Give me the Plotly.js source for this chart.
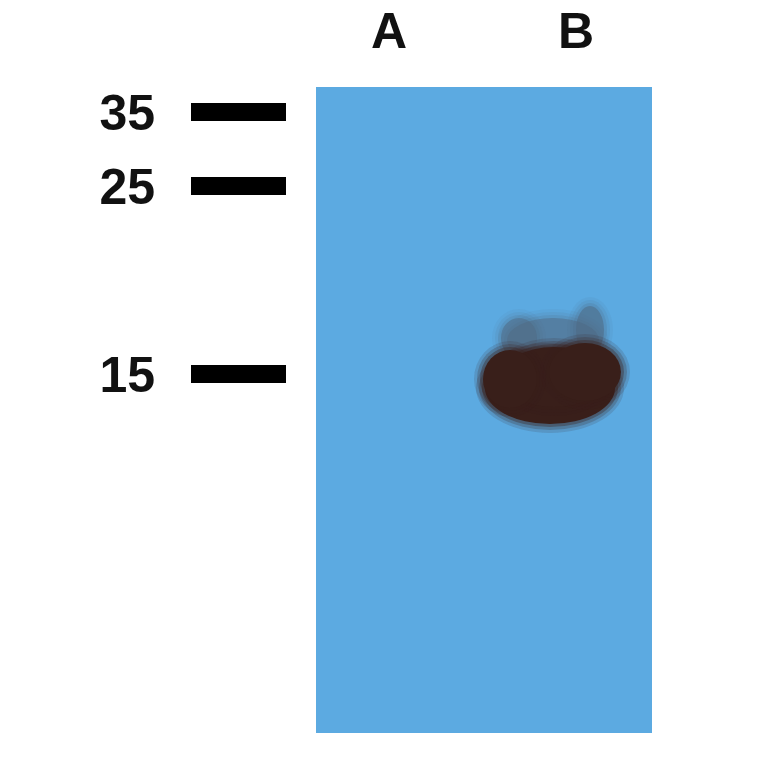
<!DOCTYPE html>
<html>
<head>
<meta charset="utf-8">
<script src="https://cdn.plot.ly/plotly-3.0.1.min.js"></script>
<style>
  html, body { margin: 0; padding: 0; background: #fff; }
  #blot { width: 764px; height: 764px; }
</style>
</head>
<body>
<div id="blot"></div>
<script>
// lanes on the membrane and the signal seen in each
var lanes = ['A', 'B'];
var laneSignal = [0, 1];

// size ladder: kDa labels and how far each marker ran from the well
var markerLabels = ['35', '25', '15'];
var markerMigration = [25, 99, 287];

// the one band, in lane B, just under the 15 kDa marker
var bandMigration = 298;

// layout helpers (pixels per lane, membrane size)
var laneStep = 187;
var membraneDepth = 646;
function dx(px) { return px / laneStep; }

var membraneColor = '#5caae1';
var bandColor = '#391f1a';
var smearColor = '#4f6a84';

var shapes = [];
shapes.push({
    type: 'rect', xref: 'x', yref: 'y', layer: 'below',
    x0: dx(-73), x1: dx(263), y0: 0, y1: membraneDepth,
    fillcolor: membraneColor, line: {width: 0}
});

function blob(cx, cy, rx, ry, color, alpha) {
    // soft edge: faint rings first, then the solid part
    var grow = [9, 6, 3, 0];
    var op = [0.14, 0.22, 0.35, 1];
    for (var i = 0; i < grow.length; i++) {
        shapes.push({
            type: 'circle', xref: 'x', yref: 'y',
            x0: cx - dx(rx + grow[i]), x1: cx + dx(rx + grow[i]),
            y0: cy - (ry + grow[i]), y1: cy + (ry + grow[i]),
            fillcolor: color, opacity: op[i] * alpha, line: {width: 0}
        });
    }
}

lanes.forEach(function(lane, i) {
    if (!laneSignal[i]) return;
    var cx = i + dx(-24);
    var cy = bandMigration;
    var s = laneSignal[i];
    // smear above the band, higher at both sides
    blob(cx + dx(1), cy - 45, 46, 22, smearColor, 0.5 * s);
    blob(cx + dx(-33), cy - 47, 18, 20, smearColor, 0.5 * s);
    blob(cx + dx(38), cy - 55, 14, 24, smearColor, 0.55 * s);
    // main band
    blob(cx + dx(-2), cy + 3, 65, 36, bandColor, s);
    blob(cx + dx(2), cy - 8, 52, 30, bandColor, s);
    blob(cx + dx(33), cy - 13, 36, 29, bandColor, s);
    blob(cx + dx(-42), cy - 6, 27, 29, bandColor, s);
});

var labelFont = {family: '"Liberation Sans", Arial, sans-serif', size: 50, color: '#111', weight: 700};

var data = [{
    type: 'scatter', mode: 'markers',
    x: lanes, y: lanes.map(function() { return bandMigration; }),
    marker: {size: 1, opacity: 0},
    hoverinfo: 'skip', showlegend: false
}];

var layout = {
    width: 764, height: 764,
    margin: {l: 0, r: 0, t: 62, b: 0},
    paper_bgcolor: '#fff', plot_bgcolor: '#fff',
    showlegend: false,
    xaxis: {
        type: 'category', categoryorder: 'array', categoryarray: lanes,
        range: [-389 / laneStep, (764 - 389) / laneStep],
        side: 'top', ticks: '', showgrid: false, zeroline: false, showline: false,
        tickfont: labelFont, ticklabelstandoff: 3
    },
    yaxis: {
        range: [764 - 87, 62 - 87],
        anchor: 'free', position: 286 / 764, side: 'left',
        tickmode: 'array', tickvals: markerMigration, ticktext: markerLabels,
        ticks: 'outside', ticklen: 95, tickwidth: 18, tickcolor: '#000',
        showgrid: false, zeroline: false, showline: false,
        tickfont: labelFont, ticklabelstandoff: 26
    },
    shapes: shapes
};

Plotly.newPlot('blot', data, layout, {staticPlot: true, displayModeBar: false});
</script>
</body>
</html>
